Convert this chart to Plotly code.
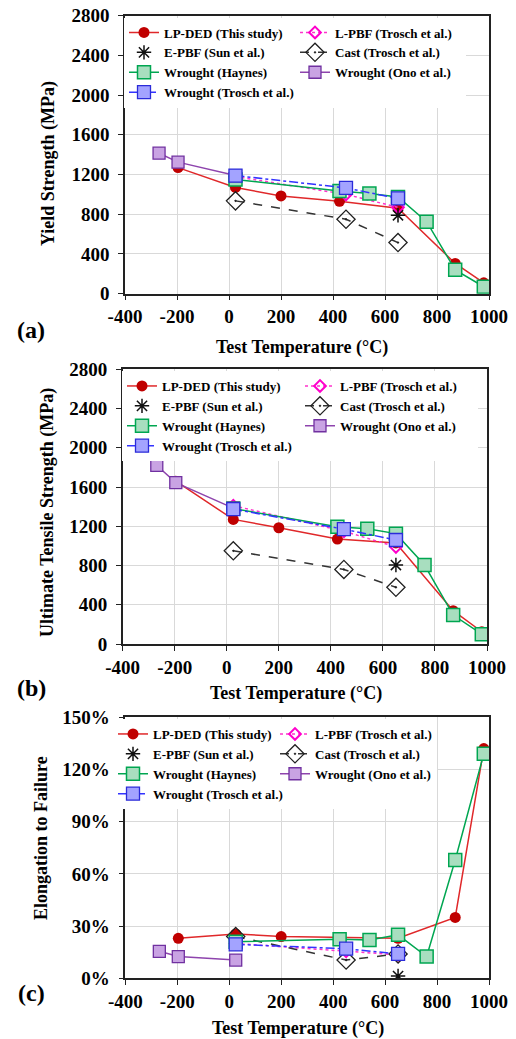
import plotly.graph_objects as go
from plotly.subplots import make_subplots

# ---------------- data ----------------
temp_lpded = [-196, 25, 200, 425, 650, 870, 980]
temp_trosch = [25, 450, 650]
temp_epbf = [650]
temp_haynes = [25, 425, 540, 650, 760, 870, 980]
temp_ono = [-269, -196, 25]

# (a) Yield strength (MPa)
ys_lpded = [1270, 1070, 985, 930, 860, 305, 110]
ys_lpbf = [1180, 1000, 870]
ys_epbf = [790]
ys_cast = [935, 750, 515]
ys_haynes = [1150, 1035, 1010, 975, 725, 240, 70]
ys_ono = [1415, 1325, 1190]
ys_trosch = [1190, 1065, 960]

# (b) Ultimate tensile strength (MPa)
uts_lpded = [1660, 1270, 1185, 1070, 1030, 340, 125]
uts_lpbf = [1410, 1150, 990]
uts_epbf = [805]
uts_cast = [950, 760, 578]
uts_haynes = [1380, 1195, 1175, 1125, 805, 295, 100]
uts_ono = [1820, 1645, 1385]
uts_trosch = [1375, 1170, 1060]

# (c) Elongation to failure (%)
el_lpded = [23, 25.5, 24, 23.5, 23, 35, 132]
el_lpbf = [20, 15.5, 13.5]
el_epbf = [1.3]
el_cast = [24, 10.5, 14]
el_haynes = [21, 22.5, 22, 25, 12.5, 68, 129]
el_ono = [15.5, 12.5, 10.5]
el_trosch = [19.5, 17, 14]

series_names = ["LP-DED (This study)", "L-PBF (Trosch et al.)", "E-PBF (Sun et al.)",
                "Cast (Trosch et al.)", "Wrought (Haynes)", "Wrought (Ono et al.)",
                "Wrought (Trosch et al.)"]

x_tickvals = [-400, -200, 0, 200, 400, 600, 800, 1000]
x_ticktext = ["-400", "-200", "0", "200", "400", "600", "800", "1000"]
y_tickvals = [0, 400, 800, 1200, 1600, 2000, 2400, 2800]
el_tickvals = [0, 30, 60, 90, 120, 150]
el_ticktext = ["0%", "30%", "60%", "90%", "120%", "150%"]

# ---------------- styles ----------------
FONT = "Liberation Serif"
W, H = 516, 1039
ML = 40
PW = W - ML


def px_x(p):
    return (p - ML) / PW


def px_y(p):
    return 1 - p / H


styles = [
    dict(mode="lines+markers", line=dict(color="#E0282A", width=1.5),
         marker=dict(symbol="circle", size=11, color="#C00000")),
    dict(mode="lines+markers", line=dict(color="#FF33CC", width=1.5, dash="dot"),
         marker=dict(symbol="diamond-open", size=9, color="#FF00CC", line=dict(width=2, color="#FF00CC"))),
    dict(mode="markers",
         marker=dict(symbol="asterisk-open", size=12, color="#111111", line=dict(width=1.5, color="#111111"))),
    dict(mode="lines+markers", line=dict(color="#333333", width=1.5, dash="dash"),
         marker=dict(symbol="diamond-open-dot", size=14, color="#222222", line=dict(width=1.3, color="#222222"))),
    dict(mode="lines+markers", line=dict(color="#00A651", width=1.5),
         marker=dict(symbol="square", size=13, color="#A8DEBF", line=dict(width=1.5, color="#00A651"))),
    dict(mode="lines+markers", line=dict(color="#8E44AD", width=1.5),
         marker=dict(symbol="square", size=12, color="#C9A3E3", line=dict(width=1.3, color="#7030A0"))),
    dict(mode="lines+markers", line=dict(color="#3333FF", width=1.5, dash="dashdot"),
         marker=dict(symbol="square", size=13, color="#A3A3FF", line=dict(width=1.3, color="#2B2BD9"))),
]

temps = [temp_lpded, temp_trosch, temp_epbf, temp_trosch, temp_haynes, temp_ono, temp_trosch]
panels = [
    [ys_lpded, ys_lpbf, ys_epbf, ys_cast, ys_haynes, ys_ono, ys_trosch],
    [uts_lpded, uts_lpbf, uts_epbf, uts_cast, uts_haynes, uts_ono, uts_trosch],
    [el_lpded, el_lpbf, el_epbf, el_cast, el_haynes, el_ono, el_trosch],
]
legend_ids = ["legend", "legend2", "legend3"]

fig = make_subplots(rows=3, cols=1)
for r, vals in enumerate(panels):
    for i, yv in enumerate(vals):
        st = styles[i]
        fig.add_trace(go.Scatter(x=temps[i], y=yv, name=series_names[i],
                                 legend=legend_ids[r], showlegend=True, **st),
                      row=r + 1, col=1)

# ---------------- layout ----------------
xdom = [[px_x(125), px_x(489)], [px_x(122.7), px_x(487)], [px_x(125.3), px_x(489)]]
ydom = [[px_y(293.7), px_y(15.7)], [px_y(644), px_y(369.3)], [px_y(978.3), px_y(717.3)]]

tickfont = dict(family=FONT, size=19, color="black", weight="bold")
common_axis = dict(showgrid=True, gridcolor="#D9D9D9", gridwidth=1, zeroline=False,
                   showline=True, linecolor="#222222", linewidth=1.5, mirror=True,
                   ticks="outside", ticklen=5, tickcolor="#222222", tickfont=tickfont,
                   automargin=False)

for r in range(3):
    sx = "" if r == 0 else str(r + 1)
    fig.layout["xaxis" + sx].update(domain=xdom[r], range=[-400, 1000],
                                    tickvals=x_tickvals, ticktext=x_ticktext, **common_axis)
    if r < 2:
        fig.layout["yaxis" + sx].update(domain=ydom[r], range=[0, 2800], tickvals=y_tickvals,
                                        ticklabelstandoff=5, **common_axis)
    else:
        fig.layout["yaxis" + sx].update(domain=ydom[r], range=[0, 150], tickvals=el_tickvals,
                                        ticktext=el_ticktext, ticklabelstandoff=5, **common_axis)

legfont = dict(family=FONT, size=13, color="black", weight="bold")
leg_common = dict(orientation="h", xanchor="left", yanchor="top", bgcolor="white",
                  borderwidth=0, font=legfont, entrywidthmode="pixels", itemclick=False)
fig.update_layout(
    width=W, height=H,
    margin=dict(l=ML, r=0, t=0, b=0),
    paper_bgcolor="white", plot_bgcolor="white",
    legend=dict(x=px_x(124), y=px_y(17.5), entrywidth=126, **leg_common),
    legend2=dict(x=px_x(122), y=px_y(371), entrywidth=133, **leg_common),
    legend3=dict(x=px_x(113), y=px_y(719), entrywidth=117, **leg_common),
)

titlefont = dict(family=FONT, size=18, color="black", weight="bold")
labfont = dict(family=FONT, size=24, color="black", weight="bold")
ann = []
for lab, yy in [("(a)", 330), ("(b)", 688), ("(c)", 993)]:
    ann.append(dict(text=lab, x=px_x(31), y=px_y(yy), xref="paper", yref="paper",
                    showarrow=False, font=labfont, xanchor="center", yanchor="middle"))
for xx, yy in [(302, 347), (296, 693), (298, 1028)]:
    ann.append(dict(text="Test Temperature (°C)", x=px_x(xx), y=px_y(yy), xref="paper", yref="paper",
                    showarrow=False, font=titlefont, xanchor="center", yanchor="middle"))
for txt, xx, yy in [("Yield Strength (MPa)", 49, 164),
                    ("Ultimate Tensile Strength (MPa)", 47, 513),
                    ("Elongation to Failure", 41, 838)]:
    ann.append(dict(text=txt, x=px_x(xx), y=px_y(yy), xref="paper", yref="paper", textangle=-90,
                    showarrow=False, font=titlefont, xanchor="center", yanchor="middle"))
fig.update_layout(annotations=ann)

fig.write_html("out.html")
